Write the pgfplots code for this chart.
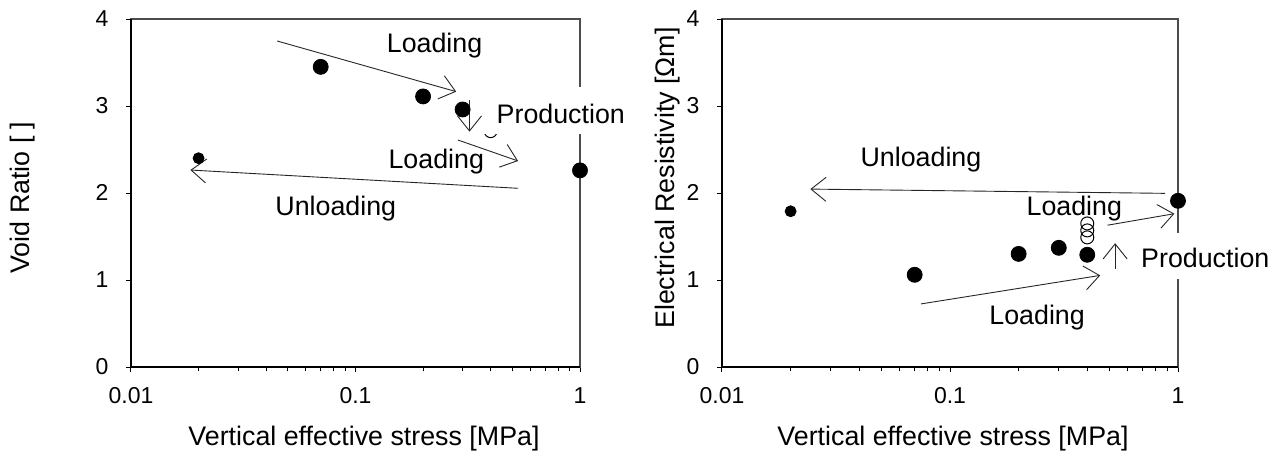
\documentclass[border=0pt]{standalone}
\usepackage{fontspec}
\setmainfont{Liberation Sans}
\usepackage{pgfplots}
\pgfplotsset{compat=1.18}
\usetikzlibrary{arrows.meta}

% 1 px of the reference = 0.5pt
\newcommand\titlefont{\fontsize{13.4}{15}\selectfont}
\newcommand\tickfont{\fontsize{11.5}{13}\selectfont}

\tikzset{
  arr/.style={black!85, line width=0.45pt,
    -{Straight Barb[length=7.5pt,width=12pt,line width=0.45pt]}},
  ann/.style={font=\titlefont, inner sep=0pt, text height=0.716em, text depth=0pt},
  axisframe/.style={black, line width=1pt},
}

\pgfplotsset{
  stressaxis/.style={
    scale only axis,
    xmin=0.01, xmax=1, ymin=0, ymax=4,
    height=174pt,
    xtick={0.01,0.1,1}, xticklabels={0.01,0.1,1},
    ytick={0,1,2,3,4}, yticklabels={0,1,2,3,4},
    tick pos=left, tick align=outside,
    major tick length=2.6pt, minor tick length=2.2pt,
    every tick/.style={black, line width=0.5pt},
    every minor tick/.style={black, line width=0.5pt},
    xticklabel style={font=\tickfont, inner sep=0pt, text height=0.716em, text depth=0pt,
      anchor=center, yshift=-12pt},
    yticklabel style={font=\tickfont, inner sep=0pt, text height=0.716em, text depth=0pt,
      anchor=east, xshift=-8.5pt},
    axis line style={black!70, line width=0.6pt},
    clip=false,
    every axis plot/.append style={only marks, black},
  },
}

\begin{document}
\begin{tikzpicture}

% ---------------- left: void ratio ----------------
\begin{semilogxaxis}[stressaxis, width=224.5pt, at={(0,0)}, anchor=south west]
\addplot[mark=*, mark size=3.75pt] coordinates {(0.07,3.45) (0.2,3.11) (0.3,2.96) (1,2.26)};
\addplot[mark=*, mark size=2.75pt] coordinates {(0.02,2.40)};
\addplot[mark=o, mark size=3.2pt, mark options={line width=0.5pt}] coordinates {(0.4,2.71)};
\draw[axisframe] (rel axis cs:0,1) -- (rel axis cs:0,0) -- (rel axis cs:1,0);
\draw[arr] (axis cs:0.0448,3.747) -- (axis cs:0.281,3.165);
\draw[arr] (axis cs:0.322,3.069) -- (axis cs:0.322,2.705);
\draw[arr] (axis cs:0.286,2.609) -- (axis cs:0.530,2.368);
\draw[arr] (axis cs:0.530,2.054) -- (axis cs:0.0184,2.264);
\node[ann] at (axis cs:0.225,3.70) {Loading};
\node[ann] at (axis cs:0.229,2.368) {Loading};
\node[ann] at (axis cs:0.0817,1.824) {Unloading};
\coordinate (LboxA) at (axis cs:0.368,2.68);
\coordinate (LboxB) at (axis cs:1.64,3.22);
\coordinate (Ltext) at (axis cs:0.424,2.877);
\end{semilogxaxis}
\fill[white] (LboxA) rectangle (LboxB);
\node[ann, anchor=west] at (Ltext) {Production};
\node[ann] at (116.5pt,-35.5pt) {Vertical effective stress [MPa]};
\node[ann, rotate=90] at (-54.25pt,84.75pt) {Void Ratio [ ]};

% ---------------- right: resistivity ----------------
\begin{semilogxaxis}[stressaxis, width=228pt, at={(295.5pt,0)}, anchor=south west]
\addplot[mark=*, mark size=3.75pt] coordinates {(0.07,1.06) (0.2,1.30) (0.3,1.37) (0.4,1.29) (1,1.91)};
\addplot[mark=*, mark size=2.75pt] coordinates {(0.02,1.79)};
\addplot[mark=o, mark size=3.25pt, mark options={line width=0.5pt}] coordinates {(0.4,1.49) (0.4,1.57) (0.4,1.65)};
\draw[axisframe] (rel axis cs:0,1) -- (rel axis cs:0,0) -- (rel axis cs:1,0);
\draw[arr] (axis cs:0.877,1.996) -- (axis cs:0.0244,2.045);
\draw[arr] (axis cs:0.0746,0.725) -- (axis cs:0.456,1.053);
\draw[arr] (axis cs:0.530,1.128) -- (axis cs:0.530,1.423);
\draw[arr] (axis cs:0.491,1.630) -- (axis cs:0.964,1.762);
\node[ann] at (axis cs:0.0746,2.385) {Unloading};
\node[ann] at (axis cs:0.351,1.82) {Loading};
\node[ann] at (axis cs:0.241,0.574) {Loading};
\coordinate (RboxA) at (axis cs:0.63,1.008);
\coordinate (RboxB) at (axis cs:2.6,1.536);
\coordinate (Rtext) at (axis cs:0.687,1.222);
\end{semilogxaxis}
\fill[white] (RboxA) rectangle (RboxB);
\node[ann, anchor=west] at (Rtext) {Production};
\node[ann] at (411pt,-35.5pt) {Vertical effective stress [MPa]};
\node[ann, rotate=90] at (268.25pt,94.5pt) {Electrical Resistivity [Ωm]};

\pgfresetboundingbox
\useasboundingbox (-65.5pt,-42pt) rectangle (574.5pt,183.5pt);
\end{tikzpicture}
\end{document}
